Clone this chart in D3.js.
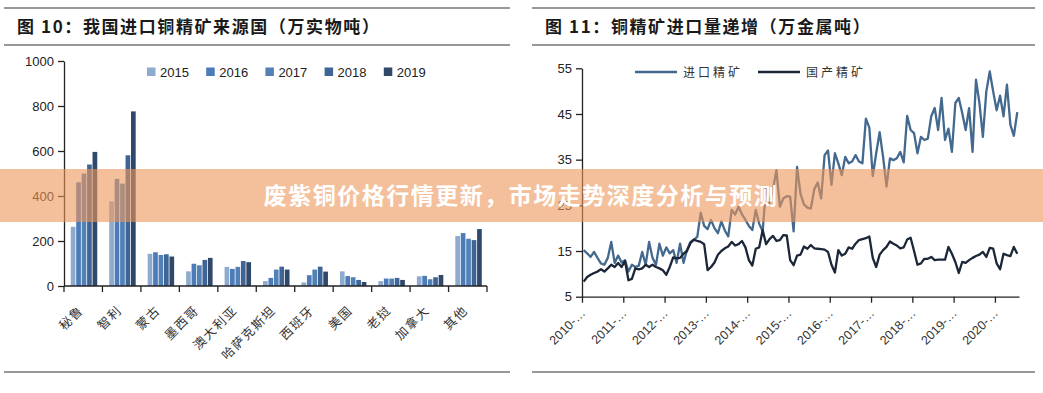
<!DOCTYPE html>
<html>
<head>
<meta charset="utf-8">
<script src="https://cdn.jsdelivr.net/npm/d3@7"></script>
<style>
  body { margin: 0; background: #fff; }
  svg { display: block; }
</style>
</head>
<body>
<svg id="svg-container"></svg>
<script>
/////////////////////////////////////////////
////////////// Data /////////////////////////
/////////////////////////////////////////////

/// left chart: source countries (10k physical tonnes) ///
const countries = ["秘鲁", "智利", "蒙古", "墨西哥", "澳大利亚", "哈萨克斯坦", "西班牙", "美国", "老挝", "加拿大", "其他"];
const years = ["2015", "2016", "2017", "2018", "2019"];
const v2015 = [263, 376, 143, 65, 85, 22, 16, 65, 22, 43, 222];
const v2016 = [461, 476, 150, 99, 76, 36, 48, 44, 33, 45, 235];
const v2017 = [500, 455, 138, 92, 85, 73, 73, 39, 33, 30, 210];
const v2018 = [540, 581, 141, 116, 111, 86, 86, 27, 36, 39, 204];
const v2019 = [596, 776, 131, 125, 106, 73, 64, 18, 27, 49, 253];
const leftTicks = [0, 200, 400, 600, 800, 1000];

/// right chart: monthly volumes 2010-01 .. 2020-07 (10k metal tonnes) ///
const importOre = [
  15.2, 14.5, 13.7, 14.8, 13.5, 12.3, 12.0, 13.5, 17.0, 12.4, 14.0, 12.5,
  13.0, 10.5, 12.0, 11.5, 11.8, 14.8, 12.0, 17.0, 13.5, 12.0, 16.6, 14.0,
  15.8, 14.5, 15.2, 12.4, 16.6, 12.4, 15.2, 17.0, 17.5, 18.1, 23.4, 20.5,
  19.8, 21.8, 20.0, 18.9, 21.5, 19.5, 18.2, 24.0, 23.0, 24.7, 23.0, 21.8,
  20.5, 19.6, 24.0, 21.0, 19.3, 29.0, 25.5, 28.5, 32.7, 24.7, 26.5, 27.0,
  26.9, 19.3, 33.4, 27.5, 25.2, 24.5, 24.3, 28.5, 30.0, 26.5, 36.0, 37.0,
  29.5, 36.4, 34.2, 31.6, 35.6, 34.2, 34.6, 36.0, 34.6, 34.2, 44.0, 42.0,
  31.4, 36.4, 41.0, 35.6, 29.1, 35.3, 34.9, 35.3, 36.7, 34.4, 44.6, 41.5,
  40.8, 36.4, 40.0, 39.3, 39.6, 44.5, 46.3, 41.5, 48.5, 39.3, 41.8, 36.7,
  47.4, 48.5, 45.2, 41.5, 46.3, 36.7, 52.5, 47.4, 40.0, 49.9, 54.3, 49.9,
  45.8, 49.0, 44.5, 51.4, 42.6, 40.2, 45.4
];
const domesticOre = [
  8.3, 9.3, 9.8, 10.2, 10.5, 11.0, 10.5, 11.2, 12.0, 11.5, 12.4, 11.5,
  12.8, 8.6, 8.9, 11.2, 11.0, 11.2, 12.0, 11.5, 12.0, 11.5, 11.2, 10.8,
  9.8, 11.5, 13.6, 13.4, 13.5, 14.4, 15.0, 16.7, 17.5, 17.2, 17.0, 16.5,
  10.8, 11.5, 12.5, 14.2, 15.0, 15.6, 16.0, 17.0, 16.2, 16.5, 17.2, 15.8,
  13.0, 11.8, 15.5, 15.8, 19.6, 16.5, 17.6, 18.3, 17.2, 17.4, 18.5, 18.4,
  13.0, 11.9, 14.0, 14.2, 16.0, 15.5, 16.3, 15.6, 15.5, 15.4, 15.3, 14.8,
  12.0, 10.3, 15.2, 14.0, 14.4, 15.8, 15.5, 16.6, 17.4, 17.6, 17.8, 18.2,
  13.5, 11.5, 14.2, 15.2, 15.9, 17.1, 16.6, 16.2, 15.6, 15.8, 17.5, 17.9,
  15.0, 12.0, 12.3, 13.3, 13.3, 13.7, 13.0, 13.1, 13.1, 13.1, 15.9, 14.4,
  12.6, 10.2, 12.6, 12.4, 13.0, 13.5, 13.9, 14.2, 14.8, 13.7, 15.7, 15.5,
  12.3, 11.0, 14.4, 14.1, 13.9, 15.9, 14.4
];
const yearLabels = ["2010-…", "2011-…", "2012-…", "2013-…", "2014-…", "2015-…", "2016-…", "2017-…", "2018-…", "2019-…", "2020-…"];
const rightTicks = [5, 15, 25, 35, 45, 55];
const seriesNames = ["进口精矿", "国产精矿"];

/////////////////////////////////////////////
////////////// Constants ////////////////////
/////////////////////////////////////////////
const width = 1043;
const height = 393;
const barColours = ["#8eaacf", "#4b7bb9", "#5281b5", "#3e6596", "#30496a"];
const importColour = "#44698f";
const domesticColour = "#1b2639";
const numFont = "'Liberation Sans', Arial, sans-serif";
const cjkFont = "'Noto Sans CJK SC', sans-serif";
const axisColour = "#222";

const svg = d3.select("#svg-container").attr("width", width).attr("height", height);

/// panel frame: title rules and titles ///
function panelFrame(x0, x1, titleX, title) {
  const g = svg.append("g");
  [8, 45, 372].forEach(y => {
    g.append("line")
      .attr("x1", x0).attr("x2", x1).attr("y1", y).attr("y2", y)
      .attr("stroke", "#333").attr("stroke-width", 1.2);
  });
  g.append("text")
    .attr("x", titleX).attr("y", 33)
    .attr("font-family", cjkFont)
    .attr("font-weight", "bold")
    .attr("font-size", "17px")
    .attr("letter-spacing", "1.6px")
    .attr("fill", "#1a1a1a")
    .text(title);
}
panelFrame(4, 510, 17, "图 10：我国进口铜精矿来源国（万实物吨）");
panelFrame(532, 1035, 545, "图 11：铜精矿进口量递增（万金属吨）");

/////////////////////////////////////////////
////////////// Bar chart ////////////////////
/////////////////////////////////////////////
const barData = [v2015, v2016, v2017, v2018, v2019];

const xBand = d3.scaleBand().domain(countries).range([64, 487]);
const xSub = d3.scaleBand().domain(years).range([6, 34]).padding(0.14);
const yLeft = d3.scaleLinear().domain([0, 1000]).range([286, 61]);

const barsG = svg.append("g");
years.forEach((yr, k) => {
  barsG.selectAll(".bar-" + yr)
    .data(countries.map((c, i) => ({ c, v: barData[k][i] })))
    .join("rect")
      .attr("x", d => xBand(d.c) + xSub(yr))
      .attr("y", d => yLeft(d.v))
      .attr("width", xSub.bandwidth())
      .attr("height", d => yLeft(0) - yLeft(d.v))
      .attr("fill", barColours[k]);
});

// y axis
svg.append("g")
  .attr("transform", "translate(64,0)")
  .call(d3.axisLeft(yLeft).tickValues(leftTicks).tickFormat(d3.format("d")).tickSize(6).tickPadding(4).tickSizeOuter(0))
  .call(g => g.select(".domain").attr("stroke", axisColour).attr("stroke-width", 1.3))
  .call(g => g.selectAll(".tick line").attr("stroke", axisColour).attr("stroke-width", 1.3))
  .call(g => g.selectAll("text").attr("font-family", numFont).attr("font-size", "13px").attr("fill", "#222"));

// x axis: ticks at band boundaries
const leftEdges = countries.map(c => xBand(c)).concat([487]);
svg.append("line")
  .attr("x1", 64).attr("x2", 487).attr("y1", 286).attr("y2", 286)
  .attr("stroke", axisColour).attr("stroke-width", 1.3);
svg.append("g").selectAll("line")
  .data(leftEdges)
  .join("line")
    .attr("x1", d => d).attr("x2", d => d)
    .attr("y1", 286).attr("y2", 292)
    .attr("stroke", axisColour).attr("stroke-width", 1.3);

svg.append("g").selectAll("text")
  .data(countries)
  .join("text")
    .attr("transform", d => `translate(${xBand(d) + xBand.bandwidth() / 2 + 1}, 311) rotate(-45)`)
    .attr("text-anchor", "end")
    .attr("font-family", cjkFont)
    .attr("font-size", "12.5px")
    .attr("letter-spacing", "1.5px")
    .attr("fill", "#333")
    .text(d => d);

// legend
const legendL = svg.append("g");
years.forEach((yr, k) => {
  const lx = 147 + k * 59.2;
  legendL.append("rect")
    .attr("x", lx).attr("y", 67.5).attr("width", 8.5).attr("height", 8.5)
    .attr("fill", barColours[k]);
  legendL.append("text")
    .attr("x", lx + 13).attr("y", 76.5)
    .attr("font-family", numFont).attr("font-size", "13px").attr("fill", "#222")
    .text(yr);
});

/////////////////////////////////////////////
////////////// Line chart ///////////////////
/////////////////////////////////////////////
const nMonths = importOre.length;
const xMonth = d3.scaleLinear().domain([0, nMonths]).range([582, 1019]);
const yRight = d3.scaleLinear().domain([5, 55]).range([296.7, 68.3]);

const lineGen = d3.line()
  .x((d, i) => xMonth(i + 0.5))
  .y(d => yRight(d));

svg.append("path")
  .datum(importOre)
  .attr("d", lineGen)
  .attr("fill", "none")
  .attr("stroke", importColour)
  .attr("stroke-width", 2.3)
  .attr("stroke-linejoin", "round");

svg.append("path")
  .datum(domesticOre)
  .attr("d", lineGen)
  .attr("fill", "none")
  .attr("stroke", domesticColour)
  .attr("stroke-width", 2.3)
  .attr("stroke-linejoin", "round");

// y axis
svg.append("g")
  .attr("transform", "translate(582,0)")
  .call(d3.axisLeft(yRight).tickValues(rightTicks).tickSize(6).tickPadding(4).tickSizeOuter(0))
  .call(g => g.select(".domain").attr("stroke", axisColour).attr("stroke-width", 1.3))
  .call(g => g.selectAll(".tick line").attr("stroke", axisColour).attr("stroke-width", 1.3))
  .call(g => g.selectAll("text").attr("font-family", numFont).attr("font-size", "13px").attr("fill", "#222"));

// x axis: a tick at the start of every year
const yearStarts = yearLabels.map((d, i) => i * 12);
svg.append("g")
  .attr("transform", "translate(0,296.7)")
  .call(d3.axisBottom(xMonth).tickValues(yearStarts).tickSize(6).tickFormat("").tickSizeOuter(0))
  .call(g => g.select(".domain").attr("stroke", axisColour).attr("stroke-width", 1.3))
  .call(g => g.selectAll(".tick line").attr("stroke", axisColour).attr("stroke-width", 1.3));

svg.append("g").selectAll("text")
  .data(yearLabels)
  .join("text")
    .attr("transform", (d, i) => `translate(${xMonth(yearStarts[i]) + 4}, 314) rotate(-45)`)
    .attr("text-anchor", "end")
    .attr("font-family", numFont)
    .attr("font-size", "12.5px")
    .attr("fill", "#333")
    .text(d => d);

// legend
const legendR = svg.append("g");
[[635, importColour], [758, domesticColour]].forEach(([lx, col], k) => {
  legendR.append("line")
    .attr("x1", lx).attr("x2", lx + 42).attr("y1", 72).attr("y2", 72)
    .attr("stroke", col).attr("stroke-width", 2.3);
  legendR.append("text")
    .attr("x", lx + 48).attr("y", 76.5)
    .attr("font-family", cjkFont).attr("font-size", "12px")
    .attr("letter-spacing", "3px")
    .attr("fill", "#333")
    .text(seriesNames[k]);
});

/////////////////////////////////////////////
////////////// Banner ///////////////////////
/////////////////////////////////////////////
svg.append("rect")
  .attr("x", 0).attr("y", 169).attr("width", width).attr("height", 53)
  .attr("fill", "rgb(237,150,90)").attr("fill-opacity", 0.6);
svg.append("text")
  .attr("x", 521).attr("y", 204)
  .attr("text-anchor", "middle")
  .attr("font-family", cjkFont)
  .attr("font-weight", "bold")
  .attr("font-size", "23px")
  .attr("letter-spacing", "1.5px")
  .attr("fill", "#fff")
  .text("废紫铜价格行情更新，市场走势深度分析与预测");
</script>
</body>
</html>
